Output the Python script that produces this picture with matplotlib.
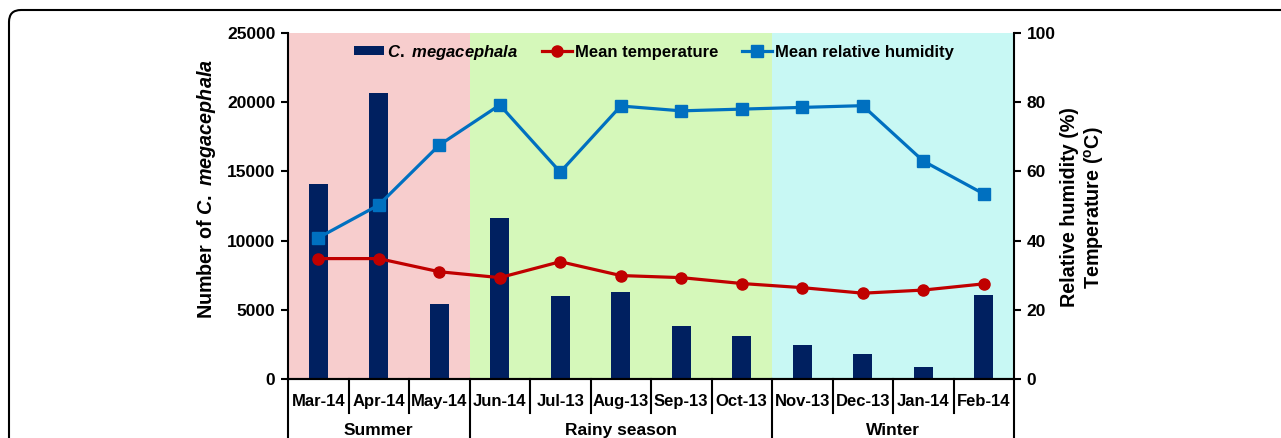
import matplotlib
matplotlib.use("Agg")
import matplotlib.pyplot as plt
import matplotlib.patches as mpatches
import matplotlib.transforms as mtransforms
import numpy as np

plt.rcParams["font.family"] = ["Liberation Sans", "DejaVu Sans"]
plt.rcParams["font.weight"] = "bold"
plt.rcParams["axes.labelweight"] = "bold"
plt.rcParams["mathtext.fontset"] = "custom"
plt.rcParams["mathtext.rm"] = "Liberation Sans:bold"
plt.rcParams["mathtext.it"] = "Liberation Sans:italic:bold"
plt.rcParams["mathtext.bf"] = "Liberation Sans:bold"

# data
months = ["Mar-14", "Apr-14", "May-14", "Jun-14", "Jul-13", "Aug-13",
          "Sep-13", "Oct-13", "Nov-13", "Dec-13", "Jan-14", "Feb-14"]
counts = [14100, 20650, 5450, 11650, 6000, 6300, 3850, 3100, 2450, 1800, 900, 6050]
temperature = [34.8, 34.8, 31.0, 29.3, 33.9, 29.9, 29.3, 27.6, 26.4, 24.8, 25.7, 27.5]
humidity = [40.8, 50.3, 67.6, 79.2, 59.8, 78.9, 77.5, 78.0, 78.5, 79.0, 63.0, 53.5]
seasons = ["Summer", "Rainy season", "Winter"]
season_sizes = [3, 5, 4]
season_colors = ["#f7cdcd", "#d5f8ba", "#c8f8f4"]

fig = plt.figure(figsize=(12.81, 4.38), dpi=100)
ax = fig.add_axes([288 / 1281, 59 / 438, 726 / 1281, 346 / 438])
ax2 = ax.twinx()

x = np.arange(len(months))

# season backgrounds
start = 0
for name, n, c in zip(seasons, season_sizes, season_colors):
    ax.axvspan(start - 0.5, start + n - 0.5, color=c, lw=0, zorder=0)
    start += n

bars = ax.bar(x, counts, width=0.31, color="#002060", zorder=2,
              label="$\\it{C.\\ megacephala}$")
l_temp, = ax2.plot(x, temperature, color="#c00000", lw=2.3, marker="o",
                   markersize=8, label="Mean temperature")
l_hum, = ax2.plot(x, humidity, color="#0070c0", lw=2.3, marker="s",
                  markersize=8, label="Mean relative humidity")

ax.set_xlim(-0.5, len(months) - 0.5)
ax.set_ylim(0, 25000)
ax2.set_ylim(0, 100)
ax.set_yticks(np.arange(0, 25001, 5000))
ax2.set_yticks(np.arange(0, 101, 20))

for a in (ax, ax2):
    a.spines["top"].set_visible(False)
    a.tick_params(axis="y", direction="out", length=5, width=1.5,
                  labelsize=12.5, pad=4)
    for s in a.spines.values():
        s.set_linewidth(1.5)
ax2.spines["left"].set_visible(False)
ax.spines["right"].set_visible(False)

ax.set_xticks(x)
ax.set_xticklabels(months, fontsize=12)
ax.tick_params(axis="x", length=0, pad=11)

ax.set_ylabel("Number of $\\it{C.\\ megacephala}$", fontsize=14.2,
              fontweight="bold")
ax.yaxis.set_label_coords(-0.0964, 0.55)
ax2.set_ylabel("Relative humidity (%)\nTemperature ($^{\\rm o}$C)",
               fontsize=14.2, fontweight="bold", rotation=90)
ax2.yaxis.set_label_coords(1.063, 0.496)

# category separators below the axis
trans = mtransforms.blended_transform_factory(ax.transData, ax.transAxes)
bounds = np.cumsum([0] + season_sizes) - 0.5
for b in np.arange(-0.5, len(months), 1.0):
    depth = -0.25 if np.any(np.isclose(b, bounds)) else -0.098
    ax.plot([b, b], [0, depth], color="black", lw=1.5, transform=trans,
            clip_on=False, zorder=5)

# season labels
start = 0
for name, n in zip(seasons, season_sizes):
    ax.text(start + (n - 1) / 2, -0.148, name, transform=trans,
            ha="center", va="center", fontsize=12.5)
    start += n

handles = [bars, l_temp, l_hum]
ax2.legend(handles, [h.get_label() for h in handles], loc="center",
           bbox_to_anchor=(0.504, 0.945), ncol=3, frameon=False, fontsize=12,
           handlelength=1.8, handletextpad=0.2, columnspacing=1.4,
           handleheight=0.4)

# rounded outer frame
frame = mpatches.FancyBboxPatch((9, -60), 1320, 488,
                                boxstyle="round,pad=0,rounding_size=12",
                                transform=mtransforms.IdentityTransform(),
                                fill=False, lw=1.5, ec="black")
fig.add_artist(frame)

fig.savefig("out.png", dpi=100)
